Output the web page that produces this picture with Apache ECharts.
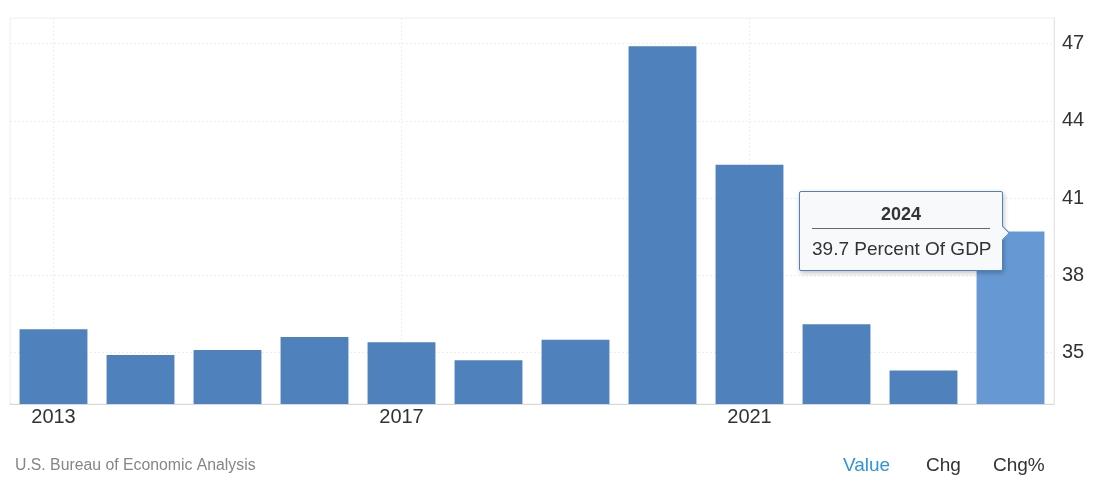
<!DOCTYPE html>
<html>
<head>
<meta charset="utf-8">
<script src="https://cdn.jsdelivr.net/npm/echarts@6/dist/echarts.min.js"></script>
<style>
html,body{margin:0;padding:0;background:#fff;}
#chart{width:1094px;height:484px;}
</style>
</head>
<body>
<div id="chart"></div>
<script>
const categories = ['2013','2014','2015','2016','2017','2018','2019','2020','2021','2022','2023','2024'];
const values = [35.9, 34.9, 35.1, 35.6, 35.4, 34.7, 35.5, 46.9, 42.3, 36.1, 34.3, 39.7];
const yTicks = [35, 38, 41, 44, 47];
const unitLabel = 'Percent Of GDP';
const sourceText = 'U.S. Bureau of Economic Analysis';
const toggleLabels = ['Value', 'Chg', 'Chg%'];
const highlightIndex = 11;

const FONT = '"Liberation Sans", Arial, sans-serif';
const chart = echarts.init(document.getElementById('chart'));

const option = {
  animation: false,
  textStyle: { fontFamily: FONT },
  grid: { left: 10, right: 40, top: 18, bottom: 80, show: true, borderColor: '#eeeeee', borderWidth: 1 },
  xAxis: {
    type: 'category',
    data: categories,
    axisLine: { show: true, lineStyle: { color: '#d8d8d8' } },
    axisTick: { show: false },
    axisLabel: { interval: 3, color: '#333', fontSize: 20, margin: 3, fontFamily: FONT },
    splitLine: { show: true, interval: 3, alignWithLabel: true, lineStyle: { color: '#eeeeee', type: [2, 2] } }
  },
  yAxis: {
    type: 'value',
    position: 'right',
    min: 33,
    max: 48,
    axisLine: { show: true, lineStyle: { color: '#e4e4e4' } },
    axisTick: { show: false, customValues: yTicks },
    axisLabel: { customValues: yTicks, color: '#333', fontSize: 20, margin: 8, fontFamily: FONT },
    splitLine: { show: true, lineStyle: { color: '#eeeeee', type: [2, 2] } }
  },
  tooltip: {
    trigger: 'item',
    alwaysShowContent: true,
    transitionDuration: 0,
    backgroundColor: '#f7f9fb',
    borderColor: '#4f81bd',
    borderWidth: 1,
    padding: [10, 12],
    extraCssText: 'box-shadow:1px 2px 5px rgba(0,0,0,0.25);border-radius:2px;',
    position: function () { return [799, 191]; },
    formatter: function (p) {
      return '<div style="position:relative;width:178px;font-family:' + FONT.replace(/"/g, "'") + ';color:#333;">' +
        '<div style="text-align:center;font-weight:bold;font-size:18px;line-height:22px;padding-top:1px;padding-bottom:3px;border-bottom:1px solid #666;">' + p.name + '</div>' +
        '<div style="font-size:19px;line-height:22px;margin-top:9px;white-space:nowrap;">' + p.value + ' ' + unitLabel + '</div>' +
        '<div style="position:absolute;right:-18px;top:26px;width:9px;height:9px;background:#f7f9fb;border-top:1px solid #4f81bd;border-right:1px solid #4f81bd;transform:rotate(45deg);"></div>' +
        '</div>';
    }
  },
  series: [{
    type: 'bar',
    data: values,
    barCategoryGap: '22%',
    itemStyle: {
      color: function (p) { return p.dataIndex === highlightIndex ? '#6699d4' : '#4f81bd'; }
    },
    emphasis: { disabled: true }
  }],
  graphic: [
    { type: 'text', left: 15, top: 458, style: { text: sourceText, fill: '#858585', font: '15.8px ' + FONT } },
    { type: 'text', left: 843, top: 456, style: { text: toggleLabels[0], fill: '#2d96d8', font: '19px ' + FONT } },
    { type: 'text', left: 926, top: 456, style: { text: toggleLabels[1], fill: '#333', font: '19px ' + FONT } },
    { type: 'text', left: 993, top: 456, style: { text: toggleLabels[2], fill: '#333', font: '19px ' + FONT } }
  ]
};
chart.setOption(option);
chart.dispatchAction({ type: 'showTip', seriesIndex: 0, dataIndex: highlightIndex });
</script>
</body>
</html>
